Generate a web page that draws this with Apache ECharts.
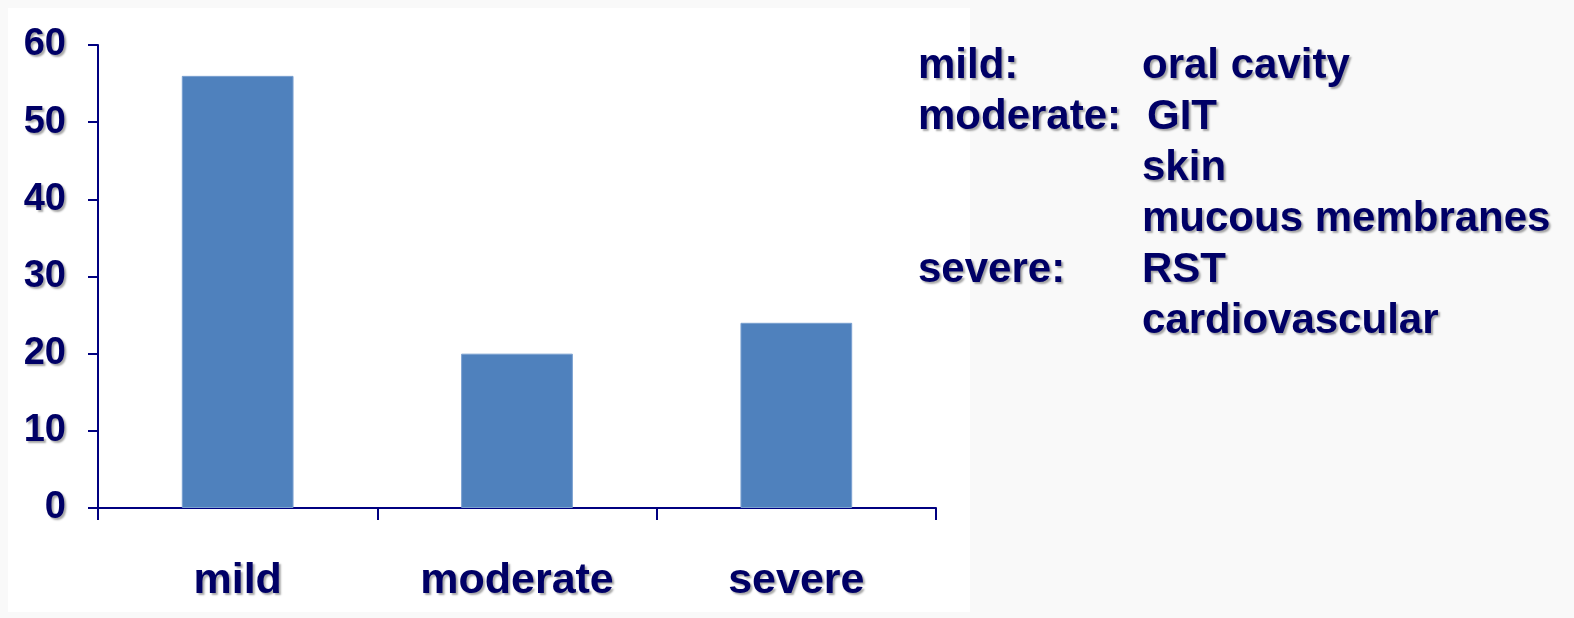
<!DOCTYPE html>
<html>
<head>
<meta charset="utf-8">
<script src="https://cdn.jsdelivr.net/npm/echarts@6/dist/echarts.min.js"></script>
<style>
  html, body { margin: 0; padding: 0; background: #f9f9f9; }
  #chart { width: 1574px; height: 618px; }
</style>
</head>
<body>
<div id="chart"></div>
<script>
// data
const categories = ['mild', 'moderate', 'severe'];
const values = [56, 20, 24];
const yTicks = [0, 10, 20, 30, 40, 50, 60];
const notesLeft = ['mild:', 'moderate:', '', '', 'severe:', ''];
const notesRight = ['oral cavity', 'GIT', 'skin', 'mucous membranes', 'RST', 'cardiovascular'];

const navy = '#000066';
const shadow = {
  textShadowColor: 'rgba(0,0,0,0.35)',
  textShadowOffsetX: 2,
  textShadowOffsetY: 2,
  textShadowBlur: 2
};
const noteFont = 'bold 42px "Liberation Sans", Arial, sans-serif';

const chart = echarts.init(document.getElementById('chart'), null, { renderer: 'canvas' });

// right-hand notes as graphic text
const notes = [];
notesLeft.forEach(function (t, i) {
  const y = 69 + i * 51;
  if (t) {
    notes.push({
      type: 'text', left: 918, top: y - 24,
      style: Object.assign({ text: t, fill: navy, font: noteFont }, shadow)
    });
  }
  notes.push({
    type: 'text', left: i === 1 ? 1147 : 1142, top: y - 24,
    style: Object.assign({ text: notesRight[i], fill: navy, font: noteFont }, shadow)
  });
});

const option = {
  backgroundColor: '#f9f9f9',
  animation: false,
  graphic: [
    { type: 'rect', left: 8, top: 8, z: -10, shape: { width: 962, height: 604 }, style: { fill: '#ffffff' } }
  ].concat(notes),
  grid: { left: 98, right: 638, top: 45, bottom: 110 },
  xAxis: {
    type: 'category',
    data: categories,
    axisLine: { lineStyle: { color: '#000080', width: 2 } },
    axisTick: { show: true, length: 12, lineStyle: { color: '#000080', width: 2 } },
    axisLabel: Object.assign({
      color: navy, fontSize: 43, fontWeight: 'bold',
      fontFamily: '"Liberation Sans", Arial, sans-serif', margin: 52
    }, shadow)
  },
  yAxis: {
    type: 'value',
    min: yTicks[0],
    max: yTicks[yTicks.length - 1],
    interval: 10,
    splitLine: { show: false },
    axisLine: { show: true, lineStyle: { color: '#000080', width: 2 } },
    axisTick: { show: true, length: 10, lineStyle: { color: '#000080', width: 2 } },
    axisLabel: Object.assign({
      color: navy, fontSize: 38, fontWeight: 'bold',
      fontFamily: '"Liberation Sans", Arial, sans-serif', margin: 32
    }, shadow)
  },
  series: [{
    type: 'bar',
    data: values,
    barWidth: '40%',
    itemStyle: { color: '#4f81bd', borderColor: '#7aa0d0', borderWidth: 1 }
  }]
};

chart.setOption(option);
</script>
</body>
</html>
